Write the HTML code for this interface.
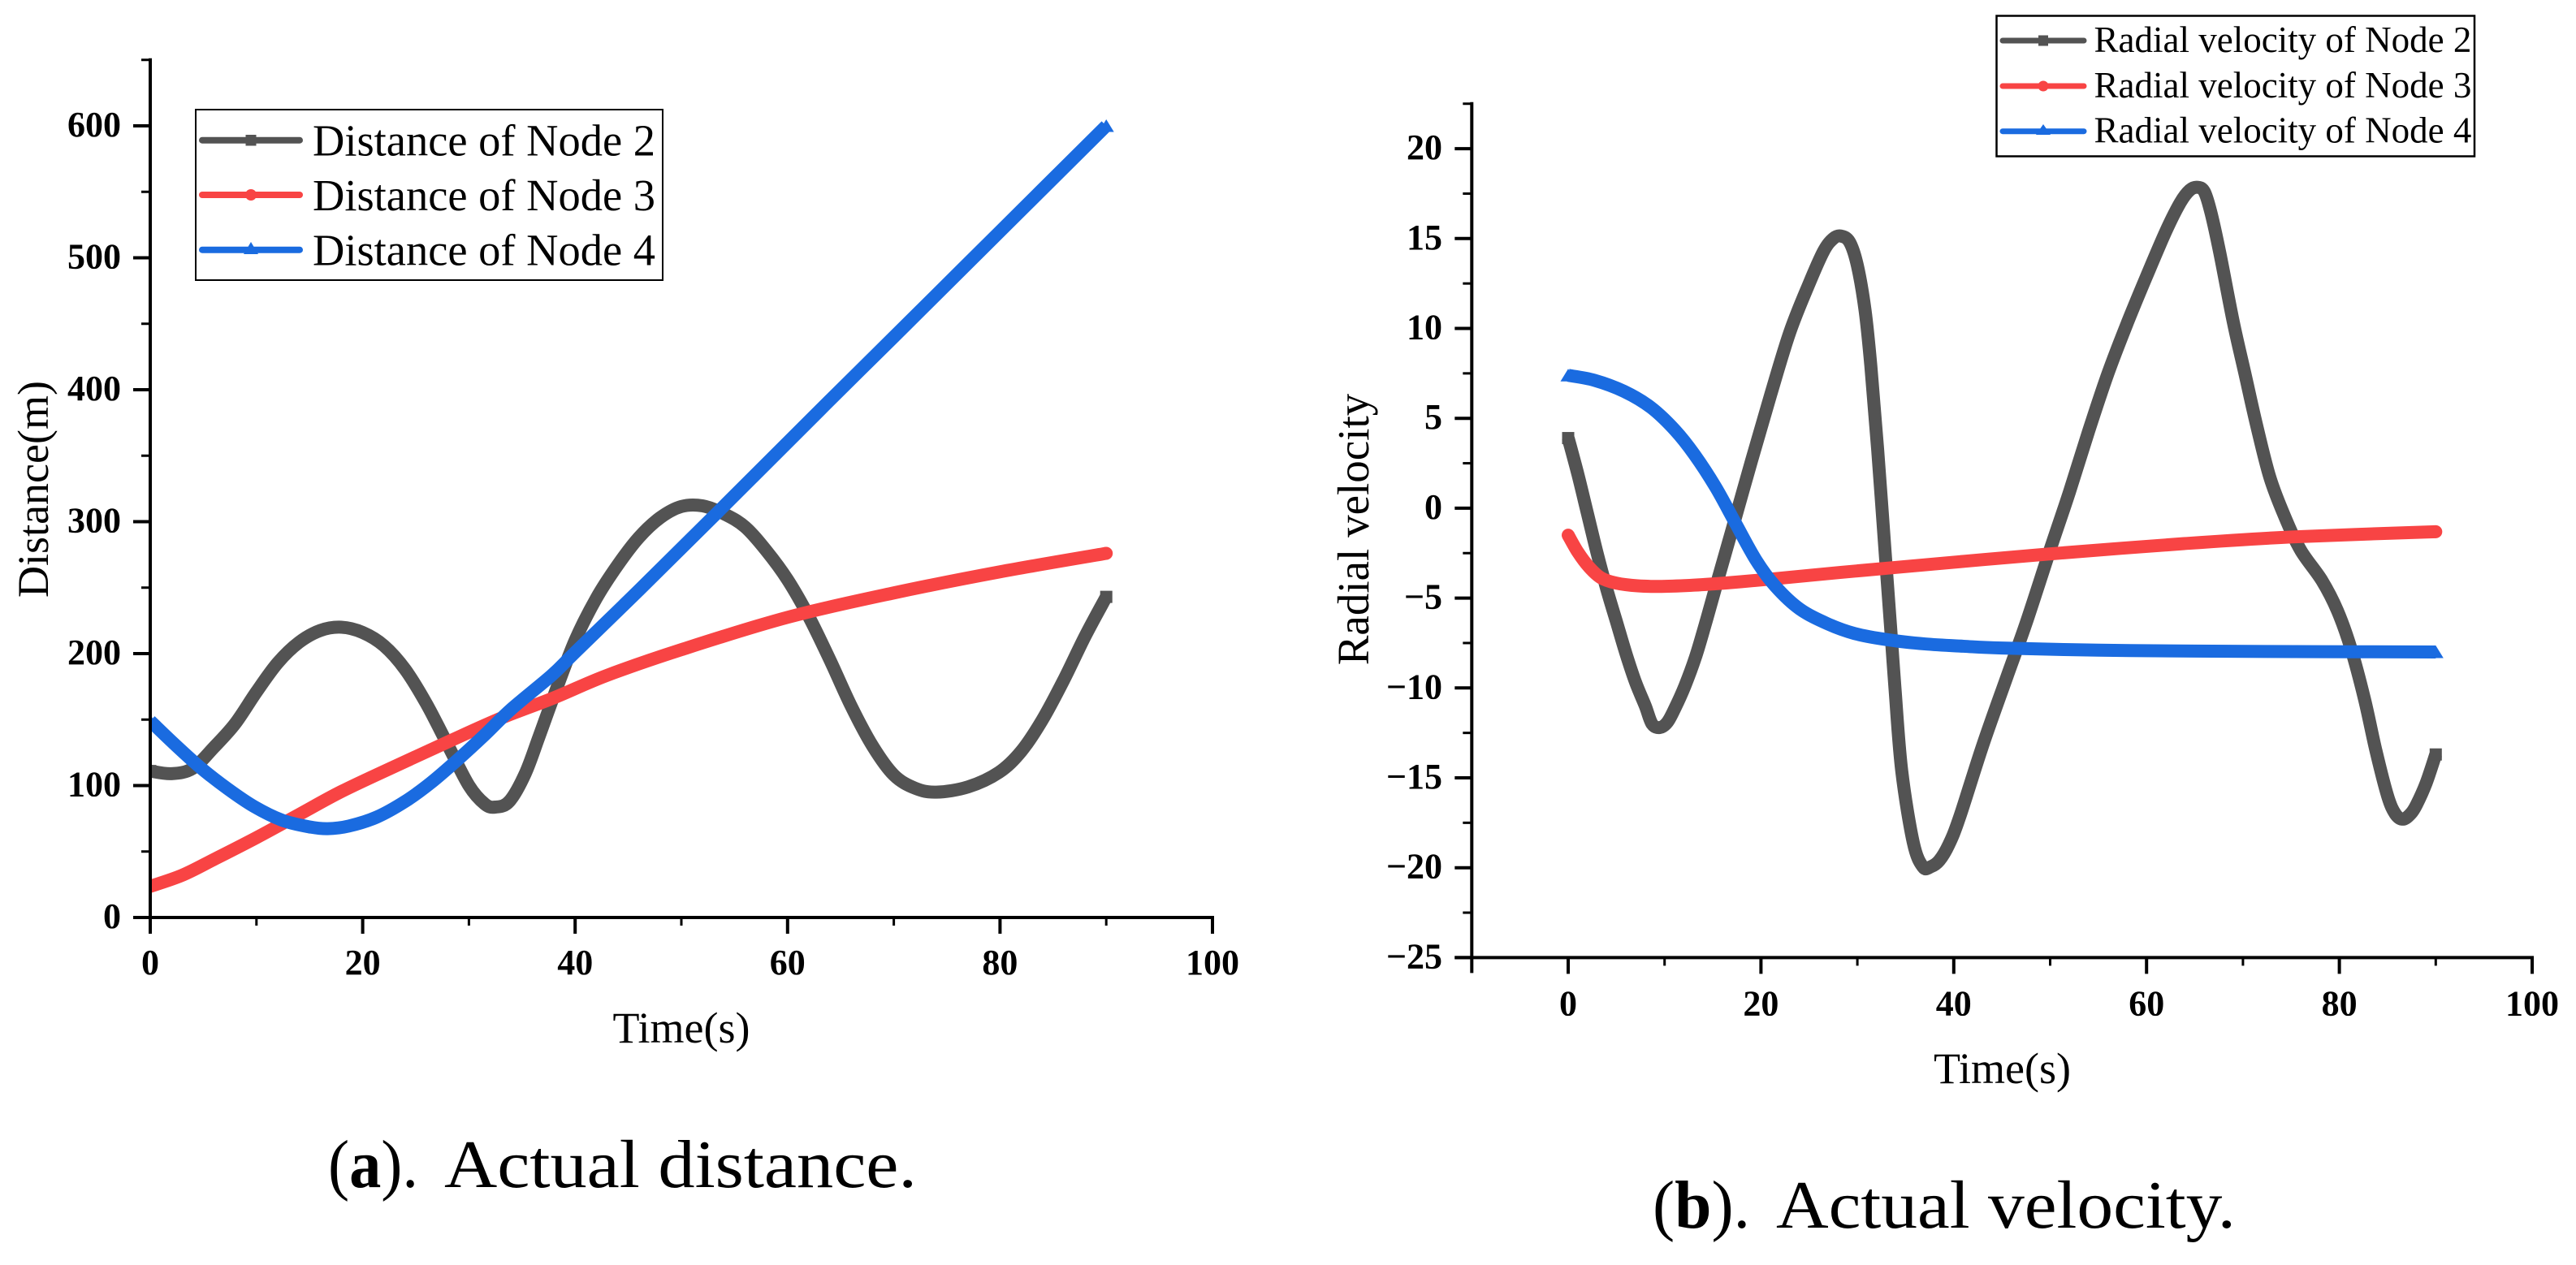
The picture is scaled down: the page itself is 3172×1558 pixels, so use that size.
<!DOCTYPE html>
<html lang="en">
<head>
<meta charset="utf-8">
<title>Actual distance and velocity</title>
<style>
html,body{margin:0;padding:0;background:#fff;}
body{width:3172px;height:1558px;overflow:hidden;}
svg{display:block;}
text{font-family:"Liberation Serif","Times New Roman",serif;fill:#000;}
.tick{font-size:44px;font-weight:bold;}
.title{font-size:54px;}
.axt{font-size:54px;}
.lega{font-size:55px;}
.legb{font-size:45px;}
.cap{font-size:84px;}
</style>
</head>
<body>
<svg id="fig" width="3172" height="1558" viewBox="0 0 3172 1558" xmlns="http://www.w3.org/2000/svg">
  <defs>
    <clipPath id="clipA"><rect x="185" y="60" width="1320" height="1070"/></clipPath>
  </defs>
  <rect x="0" y="0" width="3172" height="1558" fill="#fff"/>
  <g id="seriesA" clip-path="url(#clipA)"></g>
  <g id="panelA"></g>
  <g id="panelB"></g>

  <text class="axt" x="839" y="1284" text-anchor="middle">Time(s)</text>
  <text class="title" transform="translate(59,602.5) rotate(-90)" text-anchor="middle">Distance(m)</text>
  <text class="axt" x="2465.5" y="1334" text-anchor="middle">Time(s)</text>
  <text class="title" transform="translate(1685,652) rotate(-90)" text-anchor="middle" style="font-size:55px">Radial velocity</text>

  <g>
    <rect x="241" y="135" width="575" height="210" fill="#fff" stroke="#000" stroke-width="2"/>
    <g>
      <line x1="249" x2="369" y1="172.7" y2="172.7" stroke="#535353" stroke-width="8" stroke-linecap="round"/>
      <rect x="302.5" y="166" width="13" height="13.5" fill="#535353"/>
      <text class="lega" x="385" y="191.7" textLength="422" lengthAdjust="spacingAndGlyphs">Distance of Node 2</text>
    </g>
    <g>
      <line x1="249" x2="369" y1="240" y2="240" stroke="#F84444" stroke-width="8" stroke-linecap="round"/>
      <circle cx="309" cy="240" r="7" fill="#F84444"/>
      <text class="lega" x="385" y="259" textLength="422" lengthAdjust="spacingAndGlyphs">Distance of Node 3</text>
    </g>
    <g>
      <line x1="249" x2="369" y1="307.7" y2="307.7" stroke="#1A6BE0" stroke-width="8" stroke-linecap="round"/>
      <polygon points="309,298 318,313 300,313" fill="#1A6BE0"/>
      <text class="lega" x="385" y="326.7" textLength="422" lengthAdjust="spacingAndGlyphs">Distance of Node 4</text>
    </g>
  </g>

  <g>
    <rect x="2458.5" y="19.5" width="588.5" height="173" fill="#fff" stroke="#000" stroke-width="2.5"/>
    <g>
      <line x1="2466" x2="2566" y1="50" y2="50" stroke="#535353" stroke-width="7" stroke-linecap="round"/>
      <rect x="2510" y="43.5" width="12" height="13" fill="#535353"/>
      <text class="legb" x="2578.5" y="64">Radial velocity of Node 2</text>
    </g>
    <g>
      <line x1="2466" x2="2566" y1="106" y2="106" stroke="#F84444" stroke-width="7" stroke-linecap="round"/>
      <circle cx="2516" cy="106" r="6.5" fill="#F84444"/>
      <text class="legb" x="2578.5" y="120">Radial velocity of Node 3</text>
    </g>
    <g>
      <line x1="2466" x2="2566" y1="161.7" y2="161.7" stroke="#1A6BE0" stroke-width="7" stroke-linecap="round"/>
      <polygon points="2516,153 2525,166 2507,166" fill="#1A6BE0"/>
      <text class="legb" x="2578.5" y="175.7">Radial velocity of Node 4</text>
    </g>
  </g>

  <g>
    <text class="cap" x="404" y="1462" textLength="111" lengthAdjust="spacingAndGlyphs">(<tspan font-weight="bold">a</tspan>).</text>
    <text class="cap" x="547" y="1462" textLength="582" lengthAdjust="spacingAndGlyphs">Actual distance.</text>
  </g>
  <g>
    <text class="cap" x="2035" y="1512" textLength="120" lengthAdjust="spacingAndGlyphs">(<tspan font-weight="bold">b</tspan>).</text>
    <text class="cap" x="2187" y="1512" textLength="566" lengthAdjust="spacingAndGlyphs">Actual velocity.</text>
  </g>
</svg>

<script>
/* ---------- Panel (a): distance ---------- */
const distXTicks = [0, 20, 40, 60, 80, 100];
const distXMinor = [10, 30, 50, 70, 90];
const distYTicks = [0, 100, 200, 300, 400, 500, 600];
const distYMinor = [50, 150, 250, 350, 450, 550, 650];

const distTimeNode2 = [0,2,4,6,8,10,12,14,16,18,20,22,24,26,28,30,31.5,32.5,33.8,35.3,36.6,38,40,42,44,46,48,50,52,54,56,58,60,62,64,66,68,70,72,74,77,79.9,82,84,86,88,90];
const distNode2 = [111,109,113,129,147,171,193,208.5,217.5,220,216,206,188,162,131,100,86,83.7,88,109,137,168,210,242,267,288,303,311.5,312,306,296,278,256,228,195,160,130,108,98,95,99,110,126,150,180,213,243];

const distTimeNode3 = [0,3,6,10,14,18,23,28,33,38,43,50,60,70,80,90];
const distNode3 = [23.6,32,44,60.5,78,95.5,114.5,133,151,166.5,183.5,203,227.5,246,262,276];

const distTimeNode4 = [0,2.2,4.7,7.3,9.8,12.4,14.9,16.7,18.7,21.3,24,26.4,29,31.5,34,37.8,40,46,53.4,63.6,70,80,90];
const distNode4 = [149,132,113.8,97.5,84,73.8,68.8,67.3,69.3,76,88,102,120,138.5,158,183.6,201,248,307,389,440,520,600];

/* ---------- Panel (b): radial velocity ---------- */
const velXTicks = [0, 20, 40, 60, 80, 100];
const velXMinor = [-10, 10, 30, 50, 70, 90];
const velYTicks = [-25, -20, -15, -10, -5, 0, 5, 10, 15, 20];
const velYMinor = [-22.5, -17.5, -12.5, -7.5, -2.5, 2.5, 7.5, 12.5, 17.5, 22.5];

const velTimeNode2 = [0,1,2,3,4,5,6,7,8,8.7,9.5,10.3,11.1,12.1,13.2,14.2,15.3,17,19,21,23,25,26.5,27.5,28.3,29.2,30,30.8,31.4,32.1,32.9,33.5,33.9,34.6,35.8,36.8,37.6,38.5,39.5,40.6,43,45.5,47.5,50,52,54,56,58,60,62,63.5,64.5,65.3,66,66.7,67.6,69,70.2,71.4,72.8,74.4,76,78.2,79.8,81.2,82.6,83.8,85,85.8,86.6,87.4,88,89,90];
const velNode2 = [3.9,1.9,-0.3,-2.5,-4.5,-6.3,-8.1,-9.7,-11,-12,-12.2,-11.9,-11.1,-9.9,-8.3,-6.5,-4.4,-1.2,2.6,6.3,9.8,12.5,14.3,15,15.14,14.8,13.5,11,7.9,3.3,-2.6,-7,-10,-14.6,-18.6,-19.95,-19.95,-19.6,-18.7,-17.2,-13.2,-9.4,-6.4,-2.3,0.9,4.3,7.5,10.3,12.9,15.4,17,17.7,17.85,17.6,16.4,14.2,10.35,7.5,4.65,1.7,-0.55,-2.35,-4.03,-5.7,-7.8,-10.6,-13.5,-16,-17,-17.3,-17,-16.5,-15.3,-13.7];

const velTimeNode3 = [0,1,2.16,3.4,5,7.2,9.7,13.1,17,21.5,28.3,33.9,41.2,49.8,63.9,75.1,90];
const velNode3 = [-1.5,-2.44,-3.27,-3.87,-4.17,-4.32,-4.35,-4.28,-4.13,-3.92,-3.57,-3.3,-2.95,-2.55,-1.97,-1.6,-1.31];

const velTimeNode4 = [0,2.7,5.8,8.6,11.1,13.1,15.3,17.3,19.5,21.5,24,26.9,29.7,33.3,37,41,45,55,65,78,90];
const velNode4 = [7.39,7.12,6.5,5.6,4.33,2.98,1.17,-0.78,-2.9,-4.35,-5.6,-6.43,-6.97,-7.33,-7.55,-7.68,-7.78,-7.9,-7.95,-7.98,-8];

const SVGNS = 'http://www.w3.org/2000/svg';
const GRAY = '#535353', RED = '#F84444', BLUE = '#1A6BE0';

function make(tag, parent, attrs) {
  const el = document.createElementNS(SVGNS, tag);
  for (const k in attrs) el.setAttribute(k, attrs[k]);
  parent.appendChild(el);
  return el;
}

function smoothPath(xs, ys) {
  let d = 'M' + xs[0].toFixed(2) + ' ' + ys[0].toFixed(2);
  for (let i = 0; i < xs.length - 1; i++) {
    const p0 = Math.max(i - 1, 0), p3 = Math.min(i + 2, xs.length - 1);
    const c1x = xs[i] + (xs[i + 1] - xs[p0]) / 6;
    const c1y = ys[i] + (ys[i + 1] - ys[p0]) / 6;
    const c2x = xs[i + 1] - (xs[p3] - xs[i]) / 6;
    const c2y = ys[i + 1] - (ys[p3] - ys[i]) / 6;
    d += 'C' + c1x.toFixed(2) + ' ' + c1y.toFixed(2) + ' ' + c2x.toFixed(2) + ' ' + c2y.toFixed(2) + ' ' + xs[i + 1].toFixed(2) + ' ' + ys[i + 1].toFixed(2);
  }
  return d;
}

function drawAxes(g, sx, sy, xMin, xMax, yMin, yMax, xTicks, xMinor, yTicks, yMinor, xLabelY, yLabelX, prefix) {
  const x0 = sx(xMin), x1 = sx(xMax), y0 = sy(yMin), y1 = sy(yMax);
  const xAxis = make('line', g, {x1: x0 - 21, x2: x1 + 2, y1: y0, y2: y0, stroke: '#000', 'stroke-width': 4});
  
  
  const yAxis = make('line', g, {x1: x0, x2: x0, y1: y1 - 2, y2: y0 + 19, stroke: '#000', 'stroke-width': 4});
  
  

  xTicks.forEach(function (v) {
    const tick = make('line', g, {x1: sx(v), x2: sx(v), y1: y0, y2: y0 + 20, stroke: '#000', 'stroke-width': 4});
    
    
    const label = make('text', g, {x: sx(v), y: xLabelY, 'text-anchor': 'middle', class: 'tick'});
    label.textContent = String(v);
    
    
  });
  xMinor.forEach(function (v) {
    const tick = make('line', g, {x1: sx(v), x2: sx(v), y1: y0, y2: y0 + 10, stroke: '#000', 'stroke-width': 3});
    
    
  });
  yTicks.forEach(function (v) {
    const tick = make('line', g, {x1: x0 - 21, x2: x0, y1: sy(v), y2: sy(v), stroke: '#000', 'stroke-width': 4});
    
    
    const label = make('text', g, {x: yLabelX, y: sy(v) + 13, 'text-anchor': 'end', class: 'tick'});
    label.textContent = String(v).replace('-', '\u2212');
    
    
  });
  yMinor.forEach(function (v) {
    const tick = make('line', g, {x1: x0 - 11, x2: x0, y1: sy(v), y2: sy(v), stroke: '#000', 'stroke-width': 3});
    
    
  });
}

function endMarker(g, cx, cy, kind, color, name) {
  let m;
  if (kind === 'square') {
    m = make('rect', g, {x: cx - 7.5, y: cy - 7.5, width: 15, height: 15, fill: color});
  } else if (kind === 'triangle') {
    m = make('polygon', g, {points: (cx) + ',' + (cy - 8) + ' ' + (cx + 9.5) + ',' + (cy + 7.5) + ' ' + (cx - 9.5) + ',' + (cy + 7.5), fill: color});
  } else {
    m = make('circle', g, {cx: cx, cy: cy, r: 8, fill: color});
  }
  
  
}

function drawSeries(g, ts, vs, sx, sy, color, kind, name) {
  const xs = ts.map(sx), ys = vs.map(sy);
  const path = make('path', g, {d: smoothPath(xs, ys), fill: 'none', stroke: color, 'stroke-width': 16, 'stroke-linecap': 'butt', 'stroke-linejoin': 'round'});
  
  
  const n = xs.length - 1;
  endMarker(g, xs[0], ys[0], kind, color, name + '-start-marker');
  endMarker(g, xs[n], ys[n], kind, color, name + '-end-marker');
}

const sA = document.getElementById('seriesA');
const gA = document.getElementById('panelA');
const gB = document.getElementById('panelB');

function distX(t) { return 185 + 13.08 * t; }
function distY(v) { return 1130 - 1.625 * v; }
function velX(t) { return 1931 + 11.87 * t; }
function velY(v) { return 625.9 - 22.14 * v; }

drawSeries(sA, distTimeNode2, distNode2, distX, distY, GRAY, 'square', 'distance-line-node-2');
drawSeries(sA, distTimeNode3, distNode3, distX, distY, RED, 'circle', 'distance-line-node-3');
drawSeries(sA, distTimeNode4, distNode4, distX, distY, BLUE, 'triangle', 'distance-line-node-4');
drawAxes(gA, distX, distY, 0, 100, 0, 650, distXTicks, distXMinor, distYTicks, distYMinor, 1200, 149, 'distance');

drawSeries(gB, velTimeNode2, velNode2, velX, velY, GRAY, 'square', 'velocity-line-node-2');
drawSeries(gB, velTimeNode3, velNode3, velX, velY, RED, 'circle', 'velocity-line-node-3');
drawSeries(gB, velTimeNode4, velNode4, velX, velY, BLUE, 'triangle', 'velocity-line-node-4');
drawAxes(gB, velX, velY, -10, 100, -25, 22.5, velXTicks, velXMinor, velYTicks, velYMinor, 1250.5, 1776, 'velocity');
</script>
</body>
</html>
